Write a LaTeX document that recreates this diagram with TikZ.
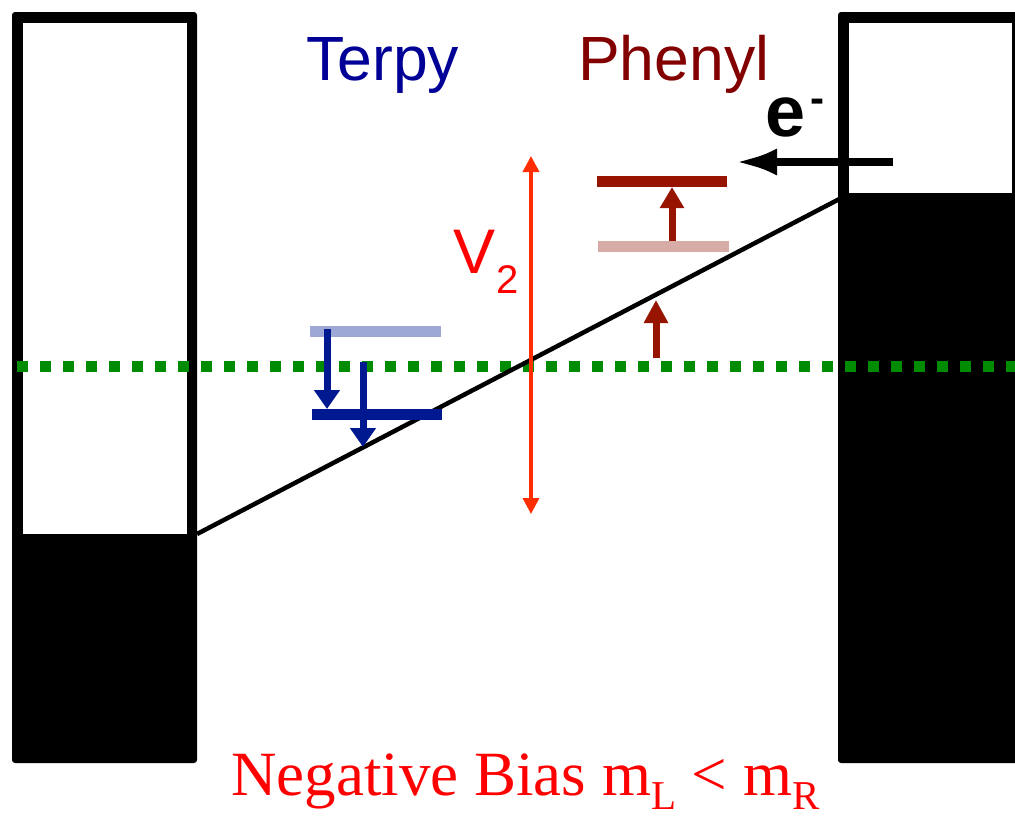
\documentclass[tikz,border=0pt]{standalone}
\usepackage{fontspec}
\setmainfont{Liberation Serif}
\setsansfont{Liberation Sans}
\usetikzlibrary{arrows.meta}
\definecolor{terpyc}{RGB}{0,0,150}
\definecolor{phenylc}{RGB}{130,0,0}
\definecolor{dblue}{RGB}{0,25,145}
\definecolor{lblue}{RGB}{158,168,214}
\definecolor{dred}{RGB}{150,20,0}
\definecolor{lred}{RGB}{215,172,166}
\definecolor{fgreen}{RGB}{0,140,0}
\definecolor{vred}{RGB}{255,45,0}
\newcommand{\mysub}[1]{\raisebox{-14pt}{\fontsize{41}{41}\selectfont #1}}
\tikzset{
  level/.style={line width=11pt, line cap=butt},
  bluearrow/.style={dblue, line width=7pt, -{Triangle[length=19pt,width=25pt]}},
  redarrow/.style={dred, line width=7pt, -{Triangle[length=21pt,width=23pt]}},
  txt/.style={inner sep=0pt, anchor=base west},
}
\begin{document}
\begin{tikzpicture}[x=1pt,y=-1pt]
\useasboundingbox (0,0) rectangle (1015,819);
% electrodes
\fill[black, rounded corners=3pt] (12,12) rectangle (197,763);
\fill[white] (23,23) rectangle (187,534);
\fill[black, rounded corners=3pt] (838,12) rectangle (1030,763);
\fill[white] (849,23) rectangle (1012,193);
% named anchor points
\coordinate (Lc) at (197,534);
\coordinate (Rc) at (849,194);
% green Fermi line
\coordinate (g1) at (17,366);
\coordinate (g2) at (1015,366);
\draw[fgreen, line width=11pt, dash pattern=on 11pt off 12pt] (g1) -- (g2);
% bias slope
\draw[black, line width=4.5pt] (Lc) -- (Rc);
% Terpy levels
\coordinate (tl1) at (310,331); \coordinate (tl2) at (441,331);
\coordinate (td1) at (312,414); \coordinate (td2) at (442,414);
\draw[level, lblue] (tl1) -- (tl2);
\draw[level, dblue] (td1) -- (td2);
\coordinate (ba1s) at (327,329); \coordinate (ba1e) at (327,409);
\coordinate (ba2s) at (363,362); \coordinate (ba2e) at (363,447);
\draw[bluearrow] (ba1s) -- (ba1e);
\draw[bluearrow] (ba2s) -- (ba2e);
% Phenyl levels
\coordinate (pd1) at (597,181); \coordinate (pd2) at (727,181);
\coordinate (pl1) at (598,246); \coordinate (pl2) at (729,246);
\draw[level, lred] (pl1) -- (pl2);
\draw[level, dred] (pd1) -- (pd2);
\coordinate (ra1s) at (672,241); \coordinate (ra1e) at (672,187);
\draw[redarrow] (ra1s) -- (ra1e);
\coordinate (ra2s) at (656,358); \coordinate (ra2e) at (656,300);
\draw[redarrow, -{Triangle[length=23pt,width=23pt]}] (ra2s) -- (ra2e);
% V2 arrow
\coordinate (v2t) at (531,156); \coordinate (v2b) at (531,514);
\draw[vred, line width=3.5pt, {Triangle[length=16pt,width=16pt]}-{Triangle[length=16pt,width=16pt]}] (v2t) -- (v2b);
% electron arrow
\coordinate (es) at (893,162); \coordinate (ee) at (735,162);
\draw[black, line width=8pt, -{Latex[length=42pt,width=27pt]}] (es) -- (ee);
% texts
\node[txt, terpyc, font=\sffamily\fontsize{62.5}{62.5}\selectfont] (terpy) at (306,80) {Terpy};
\node[txt, phenylc, font=\sffamily\fontsize{62.5}{62.5}\selectfont] (phenyl) at (578,80) {Phenyl};
\node[txt, red, font=\sffamily\fontsize{63}{63}\selectfont] (vlab) at (453,273) {V};
\node[txt, red, font=\sffamily\fontsize{40}{40}\selectfont] (vsub) at (496,293) {2};
\node[txt, black, font=\sffamily\bfseries\fontsize{72}{72}\selectfont] (elab) at (765,136) {e};
\node[txt, black, font=\sffamily\bfseries\fontsize{42}{42}\selectfont] (eminus) at (810,112) {-};
\node[txt, red, font=\fontsize{63}{63}\selectfont] (bias) at (231,795) {Negative Bias m\mysub{L} {\textless} m\mysub{R}};
\end{tikzpicture}
\end{document}
